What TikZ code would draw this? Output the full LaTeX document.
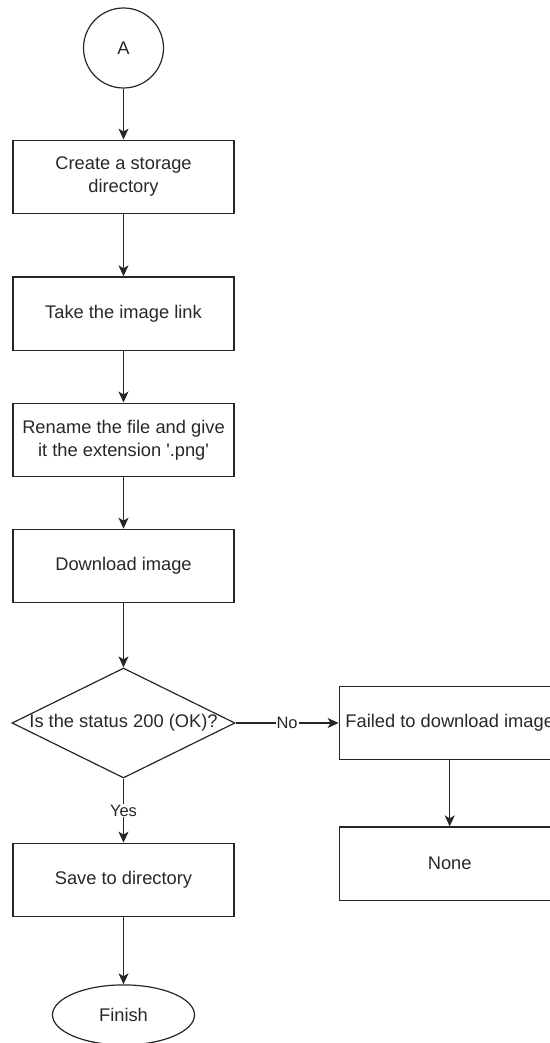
\documentclass[tikz,border=0pt]{standalone}
\usepackage{fontspec}
\newfontfamily\chartfont{Liberation Sans}
\usetikzlibrary{arrows.meta,positioning,shapes.geometric}
\definecolor{InkGrey}{RGB}{40,40,40}
\tikzset{
  flowbox/.style={draw=black!85, line width=1.2pt, align=center, text=InkGrey,
    font=\chartfont\fontsize{18.3}{23}\selectfont,
    minimum width=221pt, minimum height=73.5pt, inner sep=2pt},
  connector/.style={circle, draw=black!85, line width=1.2pt, text=InkGrey,
    font=\chartfont\fontsize{18.3}{23}\selectfont, minimum size=80pt, inner sep=0pt},
  decision/.style={diamond, draw=black!85, line width=1.2pt,
    minimum width=223pt, minimum height=110pt, inner sep=0pt},
  terminal/.style={ellipse, draw=black!85, line width=1.2pt, text=InkGrey,
    font=\chartfont\fontsize{18.3}{23}\selectfont,
    minimum width=142pt, minimum height=60pt, inner sep=0pt},
  plaintext/.style={text=InkGrey, font=\chartfont\fontsize{18.3}{23}\selectfont, inner sep=0pt},
  flowarrow/.style={-{Stealth[length=11pt,width=10pt,inset=3pt]}, line width=1.2pt, draw=black!85},
  edgelabel/.style={fill=white, text=InkGrey, inner sep=1pt,
    font=\chartfont\fontsize{16.5}{20}\selectfont}
}
\begin{document}
\begin{tikzpicture}[x=1pt,y=1pt]
  \useasboundingbox (0,0) rectangle (549,-1043);
  \node[connector] (start) at (123.5,-48) {A};
  \node[flowbox, below=51pt of start] (mkdir) {Create a storage\\directory};
  \node[flowbox, below=62pt of mkdir] (link) {Take the image link};
  \node[flowbox, below=51.5pt of link] (rename) {Rename the file and give\\it the extension '.png'};
  \node[flowbox, below=51.5pt of rename] (download) {Download image};
  \node[decision, below=64pt of download] (status) {};
  \node[plaintext] (statustext) at (status.center) {Is the status 200 (OK)?};
  \node[flowbox, below=64pt of status] (save) {Save to directory};
  \node[terminal, below=67pt of save] (finish) {Finish};
  \node[flowbox, right=103pt of status] (failed) {Failed to download image};
  \node[flowbox, below=66pt of failed] (none) {None};

  \draw[flowarrow] (start) -- (mkdir);
  \draw[flowarrow] (mkdir) -- (link);
  \draw[flowarrow] (link) -- (rename);
  \draw[flowarrow] (rename) -- (download);
  \draw[flowarrow] (download) -- (status);
  \draw[flowarrow] (status) -- node[edgelabel] (yes) {Yes} (save);
  \draw[flowarrow] (save) -- (finish);
  \draw[flowarrow] (status) -- node[edgelabel] (no) {No} (failed);
  \draw[flowarrow] (failed) -- (none);
\end{tikzpicture}
\end{document}
